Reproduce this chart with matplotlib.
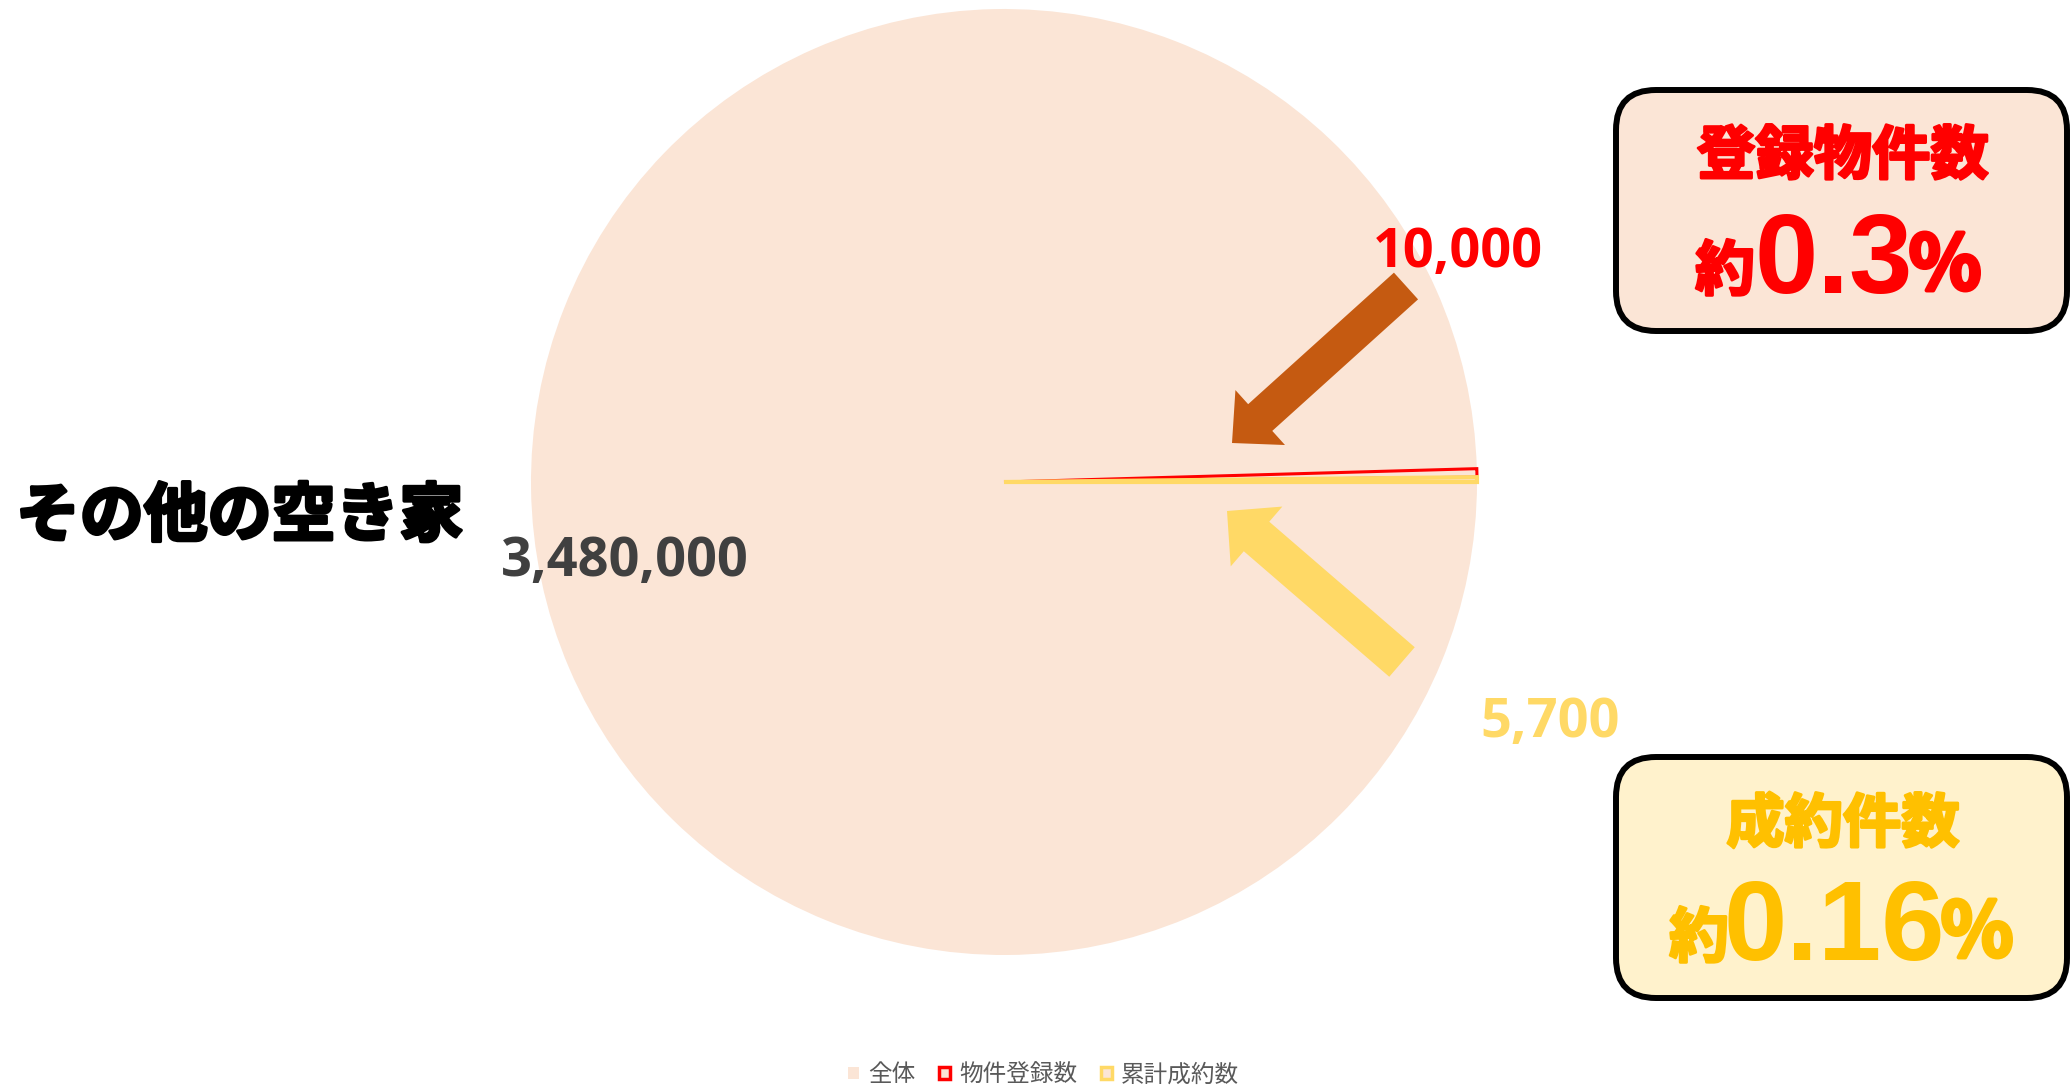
import matplotlib
matplotlib.use("Agg")
import matplotlib.pyplot as plt
import matplotlib.patheffects as pe
from matplotlib.patches import FancyBboxPatch, FancyArrow, Patch

# counts: all other vacant houses, registered listings, closed deals
labels = ["全体", "物件登録数", "累計成約数"]
values = [3480000, 10000, 5700]
total_name = "その他の空き家"
box_titles = ["登録物件数", "成約件数"]

PEACH = "#FBE5D6"
CREAM = "#FFF2CC"
RED = "#FF0000"
GOLD = "#FFD966"
AMBER = "#FFC000"
BROWN = "#C55A11"

plt.rcParams['font.family'] = ['Noto Sans CJK JP', 'DejaVu Sans']

W, H = 2071, 1088
fig = plt.figure(figsize=(W / 100, H / 100), dpi=100)

# pie sits in its own square axes
cx, cy, r = 1004, 482, 473
ax = fig.add_axes([(cx - r) / W, (H - cy - r) / H, 2 * r / W, 2 * r / H])
wedges, _ = ax.pie(values, colors=[PEACH, PEACH, PEACH], startangle=0,
                   counterclock=False, radius=1)
wedges[0].set_edgecolor("none")
wedges[1].set_edgecolor(RED)
wedges[1].set_linewidth(2.2)
wedges[2].set_edgecolor(GOLD)
wedges[2].set_linewidth(3.0)
ax.set_xlim(-1, 1)
ax.set_ylim(-1, 1)

# overlay in pixel units for the callouts
ov = fig.add_axes([0, 0, 1, 1])
ov.set_xlim(0, W)
ov.set_ylim(H, 0)
ov.axis("off")


def heavy(color, w=2.0):
    # thicken the CJK glyphs a little, the bold face alone is too light
    return [pe.withStroke(linewidth=w, foreground=color)]


ov.text(16, 517, total_name, fontsize=46, fontweight="bold", color="black",
        ha="left", va="center", path_effects=heavy("black", 2.5))

num_font = dict(family=["Open Sans", "DejaVu Sans"], fontweight="bold", fontsize=39)
ov.text(625, 576, f"{values[0]:,}", color="#404040", ha="center", va="baseline", **num_font)
ov.text(1458, 267, f"{values[1]:,}", color=RED, ha="center", va="baseline", **num_font)
ov.text(1550, 737, f"{values[2]:,}", color=GOLD, ha="center", va="baseline", **num_font)

# arrows pointing at the thin slices
ov.add_patch(FancyArrow(1406, 286, -174, 157, width=36, head_width=74, head_length=38,
                        length_includes_head=True, color=BROWN, lw=0))
ov.add_patch(FancyArrow(1402, 662, -175, -151, width=39, head_width=79, head_length=39,
                        length_includes_head=True, color=GOLD, lw=0))

# share of the total, shown in the two callout boxes
pct_reg = f"{values[1] / values[0] * 100:.1f}"
pct_deal = f"{values[2] / values[0] * 100:.2f}"

boxes = [
    (90, PEACH, RED, box_titles[0], pct_reg, (1725, 1834, 1945), 157, 293),
    (757, CREAM, AMBER, box_titles[1], pct_deal, (1699, 1834, 1977), 825, 960),
]
for top, fc, tc, title, pct, xs, ty, base in boxes:
    ov.add_patch(FancyBboxPatch((1616, top), 451, 241,
                                boxstyle="round,pad=0,rounding_size=40",
                                fc=fc, ec="black", lw=4.3))
    ov.text(1843, ty, title, fontsize=42, fontweight="bold", color=tc,
            ha="center", va="center", path_effects=heavy(tc))
    ov.text(xs[0], base - 3, "約", fontsize=43, fontweight="bold", color=tc,
            ha="center", va="baseline", path_effects=heavy(tc))
    ov.text(xs[1], base, pct, fontsize=82, fontweight="bold", color=tc,
            family=["Liberation Sans", "DejaVu Sans"], ha="center", va="baseline")
    ov.text(xs[2], base - 3, "％", fontsize=54, fontweight="bold", color=tc,
            ha="center", va="baseline", path_effects=heavy(tc, 3.0))

handles = [
    Patch(fc=PEACH, ec="none"),
    Patch(fc=PEACH, ec=RED, lw=2.5),
    Patch(fc=PEACH, ec=GOLD, lw=2.5),
]
fig.legend(handles, labels, loc="center", bbox_to_anchor=(0.504, 0.012), ncol=3,
           frameon=False, fontsize=17, labelcolor="#595959", handlelength=0.45,
           handleheight=0.45, handletextpad=0.4, columnspacing=1.0)

fig.savefig("out.png", dpi=100)
